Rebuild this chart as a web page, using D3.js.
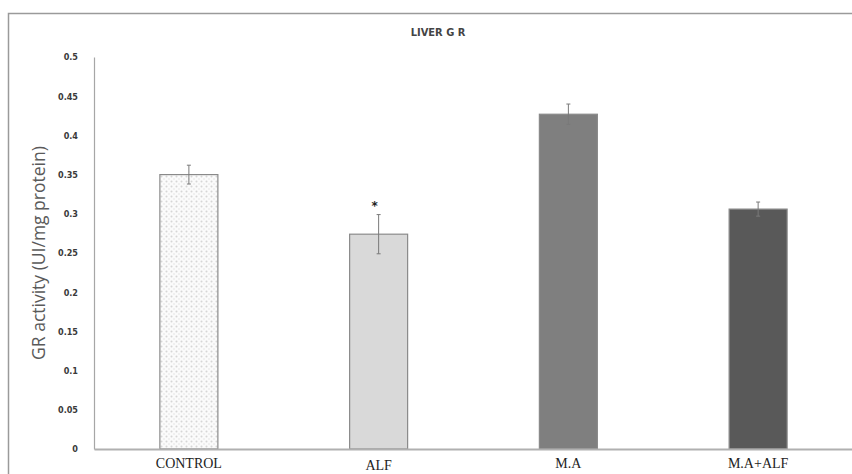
<!DOCTYPE html>
<html><head><meta charset="utf-8">
<script src="https://cdn.jsdelivr.net/npm/d3@7"></script>
<style>body{margin:0;background:#fff}svg{display:block}</style>
</head><body>
<script>
const categories = ["CONTROL", "ALF", "M.A", "M.A+ALF"];
const values = [0.35, 0.274, 0.427, 0.306];
const errors = [0.012, 0.025, 0.013, 0.009];
const significance = ["", "*", "", ""];
const yTicks = [0, 0.05, 0.1, 0.15, 0.2, 0.25, 0.3, 0.35, 0.4, 0.45, 0.5];
const yTickLabels = ["0", "0.05", "0.1", "0.15", "0.2", "0.25", "0.3", "0.35", "0.4", "0.45", "0.5"];
const fills = ["url(#dots)", "#d9d9d9", "#7f7f7f", "#595959"];

const W = 852, H = 474;
const svg = d3.select("body").append("svg").attr("width", W).attr("height", H);

const defs = svg.append("defs");
const pat = defs.append("pattern").attr("id", "dots").attr("patternUnits", "userSpaceOnUse")
  .attr("width", 5).attr("height", 5);
pat.append("rect").attr("width", 5).attr("height", 5).attr("fill", "#fbfbfb");
pat.append("circle").attr("cx", 1.5).attr("cy", 1.5).attr("r", 1).attr("fill", "#d6d6d6");
pat.append("circle").attr("cx", 4).attr("cy", 4).attr("r", 0.8).attr("fill", "#e2e2e2");

// outer border (cropped on right/bottom)
svg.append("path").attr("d", `M8.5,${H}V13.5H${W}`).attr("fill", "none")
  .attr("stroke", "#9a9a9a").attr("stroke-width", 1.5);

const x0 = 94, x1 = 853, yTop = 57, yBot = 449;
const pi = 1 - 58 / ((x1 - x0) / 4);
const x = d3.scaleBand().domain(categories).range([x0, x1]).paddingInner(pi).paddingOuter(pi / 2);
const y = d3.scaleLinear().domain([0, 0.5]).range([yBot, yTop]);

// y axis
const yAxis = d3.axisLeft(y).tickValues(yTicks).tickSize(0).tickPadding(16)
  .tickFormat((d, i) => yTickLabels[i]);
const gy = svg.append("g").attr("transform", `translate(${x0},0)`).call(yAxis);
gy.select(".domain").attr("stroke", "#a6a6a6").attr("stroke-width", 1.2);
gy.selectAll("text").attr("font-family", "DejaVu Sans Condensed, DejaVu Sans, sans-serif").attr("font-size", 9)
  .attr("font-weight", "bold").attr("fill", "#3a3a3a");

// bars
svg.append("g").selectAll("rect").data(categories).join("rect")
  .attr("x", d => x(d)).attr("width", x.bandwidth())
  .attr("y", (d, i) => y(values[i])).attr("height", (d, i) => y(0) - y(values[i]))
  .attr("fill", (d, i) => fills[i]).attr("stroke", "#8a8a8a").attr("stroke-width", 1.2);

// x axis
const xAxis = d3.axisBottom(x).tickSize(0).tickPadding(8);
const gx = svg.append("g").attr("transform", `translate(0,${yBot})`).call(xAxis);
gx.select(".domain").attr("stroke", "#b0b0b0").attr("stroke-width", 2);
gx.selectAll("text").attr("font-family", "Liberation Serif, serif").attr("font-size", 14)
  .attr("fill", "#222").attr("dy", (d, i) => i === 1 ? "0.95em" : "0.75em");

// error bars
const eb = svg.append("g").attr("stroke", "#7a7a7a").attr("stroke-width", 1);
categories.forEach((c, i) => {
  const cx = x(c) + x.bandwidth() / 2;
  const t = y(values[i] + errors[i]), b = y(values[i] - errors[i]);
  eb.append("line").attr("x1", cx).attr("x2", cx).attr("y1", t).attr("y2", b);
  eb.append("line").attr("x1", cx - 2).attr("x2", cx + 2).attr("y1", t).attr("y2", t);
  eb.append("line").attr("x1", cx - 2).attr("x2", cx + 2).attr("y1", b).attr("y2", b);
  if (significance[i]) {
    svg.append("text").attr("x", cx - 4).attr("y", t - 5).attr("text-anchor", "middle")
      .attr("font-family", "DejaVu Sans, sans-serif").attr("font-size", 12).attr("font-weight", "bold")
      .attr("fill", "#222").text(significance[i]);
  }
});

// title
svg.append("text").attr("x", 438).attr("y", 36).attr("text-anchor", "middle")
  .attr("font-family", "DejaVu Sans Condensed, DejaVu Sans, sans-serif").attr("font-size", 11).attr("font-weight", "bold")
  .attr("fill", "#444").text("LIVER G R");

// y label
svg.append("text").attr("transform", "translate(45,253) rotate(-90)").attr("text-anchor", "middle")
  .attr("font-family", "Open Sans, sans-serif").attr("font-size", 17.5).attr("fill", "#5a5a5a")
  .text("GR activity (UI/mg protein)");
</script>
</body></html>
